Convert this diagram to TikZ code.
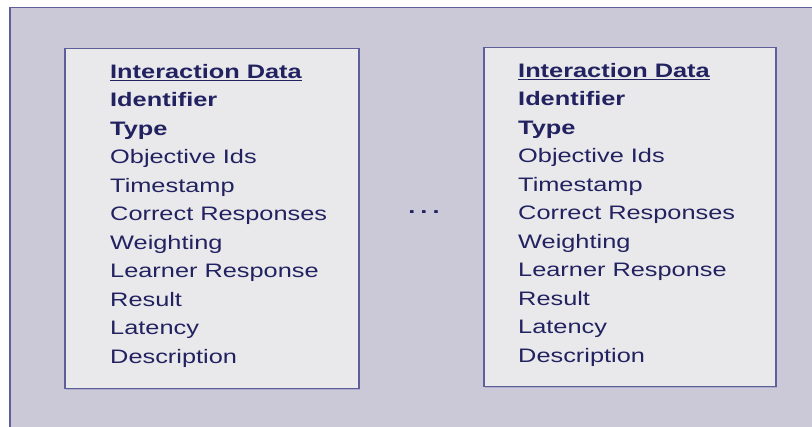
\documentclass[tikz,border=0pt]{standalone}
\usepackage{fontspec}
\setmainfont[FakeStretch=1.3]{Liberation Sans}
\usetikzlibrary{shadows}

\definecolor{panelgray}{HTML}{CBC8D8}
\definecolor{recordgray}{HTML}{E9E9EC}
\definecolor{frameblue}{HTML}{5E5E98}
\definecolor{textnavy}{HTML}{222260}

\newcommand{\underlined}[1]{\setbox0\hbox{#1}\rlap{\rule[-3pt]{\wd0}{1.8pt}}\box0}

\newcommand{\interactionfields}{%
  \textbf{\underlined{Interaction Data}}\\
  \textbf{Identifier}\\
  \textbf{Type}\\
  Objective Ids\\
  Timestamp\\
  Correct Responses\\
  Weighting\\
  Learner Response\\
  Result\\
  Latency\\
  Description}

\begin{document}
\begin{tikzpicture}[x=1pt, y=-1pt,
  panel/.style = {rectangle, draw=frameblue, line width=1.5pt, fill=panelgray, inner sep=0pt, anchor=north west},
  record/.style = {rectangle, draw=frameblue, line width=1.5pt, fill=recordgray, inner sep=0pt, anchor=north west,
                   drop shadow={shadow xshift=1.5pt, shadow yshift=-1.5pt, fill=frameblue!55, opacity=0.8}},
  fields/.style = {anchor=north west, align=left, inner sep=0pt, text=textnavy, font=\fontsize{19.5}{28.5}\selectfont}]
  \useasboundingbox [fill=white] (0, 0) rectangle (812, 427);

  % Background panel.
  \node at (9, 7) [panel, minimum width=830pt, minimum height=440pt, name=Panel] {};

  % Interaction records.
  \node at (64, 48) [record, minimum width=294pt, minimum height=340pt, name=FirstRecord] {};
  \node at (483, 47) [record, minimum width=292pt, minimum height=339pt, name=LastRecord] {};

  % Record contents.
  \node at (110, 64) [fields, name=FirstFields] {\interactionfields};
  \node at (518, 63) [fields, name=LastFields] {\interactionfields};

  % Ellipsis between the records.
  \node at (424, 214) [anchor=base, inner sep=0pt, text=textnavy, font=\fontsize{19.5}{28.5}\selectfont, name=Ellipsis]
        {\textbf{.\kern5pt.\kern5pt.}};
\end{tikzpicture}
\end{document}
